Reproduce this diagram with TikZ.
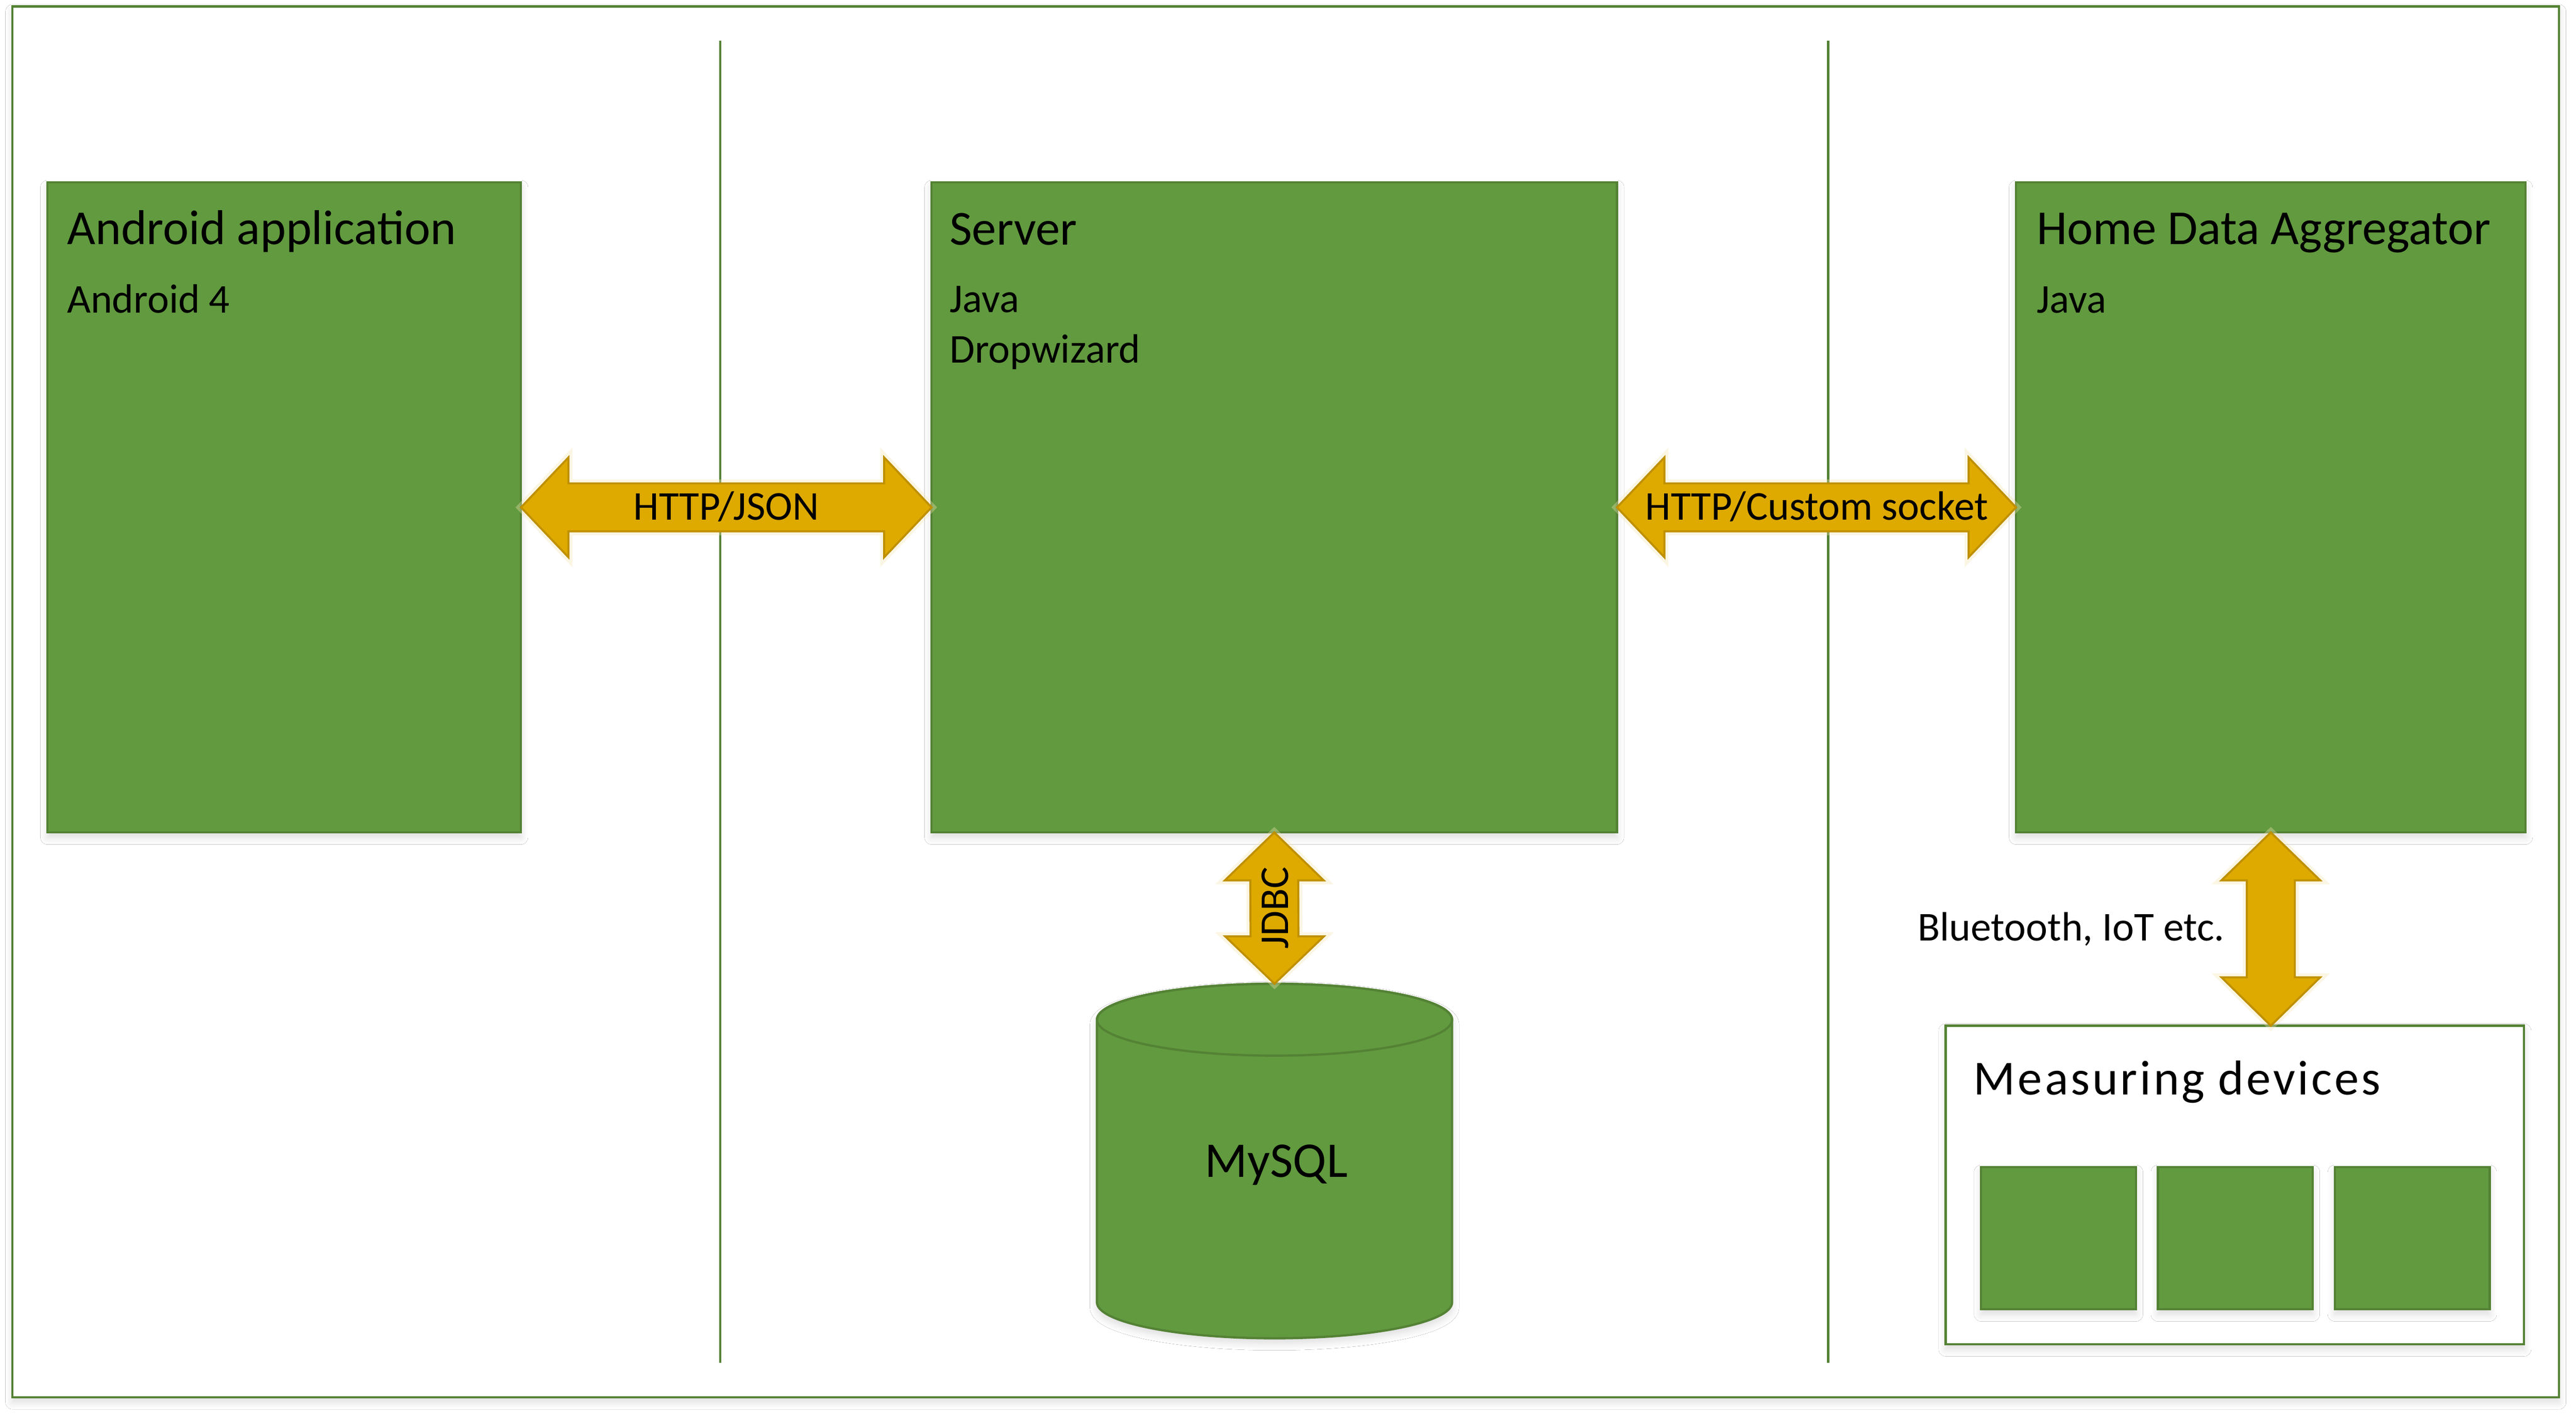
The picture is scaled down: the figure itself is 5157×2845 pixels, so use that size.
\documentclass[tikz,border=0pt]{standalone}
\usepackage{fontspec}
\setmainfont{Carlito}
\newfontfamily\spacedfont[LetterSpace=5]{Carlito}
\usetikzlibrary{calc,shadows.blur}
\definecolor{gfill}{HTML}{629A3F}
\definecolor{gline}{HTML}{548235}
\definecolor{afill}{HTML}{DEAA00}
\definecolor{aline}{HTML}{BF9000}
\begin{document}
\begin{tikzpicture}[x=1pt,y=-1pt,
  softshadow/.style={blur shadow={shadow xshift=0pt, shadow yshift=-10pt, shadow opacity=14, shadow blur radius=14pt, shadow blur steps=8}},
  greenbox/.style={draw=gline, fill=gfill, line width=4.5pt, inner sep=0pt, outer sep=0pt, softshadow},
  whitebox/.style={draw=gline, fill=white, line width=4.5pt, inner sep=0pt, outer sep=0pt, softshadow},
  vline/.style={draw=gline, line width=4.5pt},
  goldarrow/.style={draw=aline, fill=afill, line width=4pt, line join=miter,
    preaction={draw=afill!30, line width=16pt, opacity=0.35}},
  title/.style={inner sep=0pt, anchor=base west, font=\fontsize{98}{118}\selectfont},
  sub/.style={inner sep=0pt, anchor=base west, font=\fontsize{82}{98}\selectfont},
  lbl/.style={inner sep=0pt, font=\fontsize{82}{98}\selectfont}
]
\useasboundingbox (0,0) rectangle (5157,2845);
\fill[white] (0,0) rectangle (5157,2845);

% outer frame
\node[whitebox, minimum width=5098, minimum height=2785] (frame) at (2574,1405.5) {};

% separators
\coordinate (v1t) at (1442,81);
\coordinate (v1b) at (1442,2729);
\coordinate (v2t) at (3660,81);
\coordinate (v2b) at (3660,2729);
\draw[vline] (v1t) -- (v1b);
\draw[vline] (v2t) -- (v2b);

% main boxes
\node[greenbox, minimum width=948, minimum height=1302] (android) at (569,1016) {};
\node[greenbox, minimum width=1372, minimum height=1302] (server) at (2551,1016) {};
\node[greenbox, minimum width=1020, minimum height=1302] (hda) at (4546,1016) {};

% measuring devices
\node[whitebox, minimum width=1158, minimum height=638] (mdev) at (4474,2373) {};
\node[greenbox, minimum width=310, minimum height=285] (dev1) at (4121,2479.5) {};
\node[greenbox, minimum width=310, minimum height=285] (dev2) at (4475,2479.5) {};
\node[greenbox, minimum width=310, minimum height=285] (dev3) at (4829,2479.5) {};

% database cylinder
\path[draw=gline, fill=gfill, line width=4.5pt, softshadow]
  (2196,2042) -- (2196,2608)
  arc[start angle=180, end angle=360, x radius=355.5pt, y radius=72pt]
  -- (2907,2042)
  arc[start angle=0, end angle=180, x radius=355.5pt, y radius=72pt] -- cycle;
\draw[gline, line width=4.5pt] (2551.5,2042) ellipse[x radius=355.5pt, y radius=72pt];
\coordinate (dbtop) at (2551.5,1970);

% arrows
\draw[goldarrow] (android.east) -- ++(95,-100) -- ++(0,52) -- ($(server.west)+(-95,-48)$)
  -- ++(0,-52) -- (server.west) -- ++(-95,100) -- ++(0,-52) -- ($(android.east)+(95,48)$)
  -- ++(0,52) -- cycle;
\draw[goldarrow] (server.east) -- ++(95,-100) -- ++(0,52) -- ($(hda.west)+(-95,-48)$)
  -- ++(0,-52) -- (hda.west) -- ++(-95,100) -- ++(0,-52) -- ($(server.east)+(95,48)$)
  -- ++(0,52) -- cycle;
\draw[goldarrow] (server.south) -- ++(99,96) -- ++(-51,0) -- ($(dbtop)+(48,-95)$)
  -- ++(51,0) -- (dbtop) -- ++(-99,-95) -- ++(51,0) -- ($(server.south)+(-48,96)$)
  -- ++(-51,0) -- cycle;
\coordinate (btend) at (hda.south |- mdev.north);
\draw[goldarrow] (hda.south) -- ++(99,96) -- ++(-51,0) -- ($(btend)+(48,-97)$)
  -- ++(51,0) -- (btend) -- ++(-99,-97) -- ++(51,0) -- ($(hda.south)+(-48,96)$)
  -- ++(-51,0) -- cycle;

% texts
\node[title] (t1) at (134,489) {Android application};
\node[sub] (s1) at (134,627) {Android 4};
\node[title] (t2) at (1901,490) {Server};
\node[sub] (s2a) at (1901,626) {Java};
\node[sub] (s2b) at (1901,727) {Dropwizard};
\node[title] (t3) at (4077,489) {Home Data Aggregator};
\node[sub] (s3) at (4077,627) {Java};
\node[lbl, anchor=base] (l1) at (1454,1041) {HTTP/JSON};
\node[lbl, anchor=base] (l2) at (3637,1041) {HTTP/Custom socket};
\node[lbl, anchor=base, rotate=90] (l3) at (2579,1818) {JDBC};
\node[lbl, anchor=base west] (l4) at (3839,1884) {Bluetooth, IoT etc.};
\node[inner sep=0pt, anchor=base west, font=\spacedfont\fontsize{98}{118}\selectfont] (l5) at (3951,2192) {Measuring devices};
\node[inner sep=0pt, anchor=base, font=\fontsize{100}{120}\selectfont] (l6) at (2555,2357) {MySQL};
\end{tikzpicture}
\end{document}
